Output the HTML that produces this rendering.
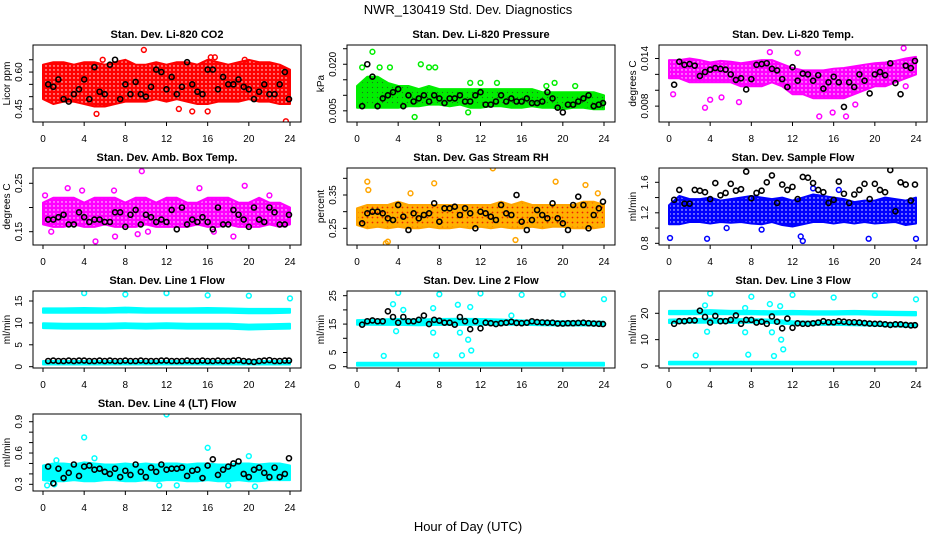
<!DOCTYPE html>
<html><head><meta charset="utf-8"><style>
html,body{margin:0;padding:0;background:#fff;}
svg{display:block;font-family:"Liberation Sans",sans-serif;}
</style></head><body>
<svg id="chart" width="936" height="540" viewBox="0 0 936 540">
<defs>
<pattern id="pat-red" width="4" height="4" patternUnits="userSpaceOnUse"><rect width="4" height="4" fill="#ff0000"/><circle cx="2" cy="2" r="0.7" fill="#ffffff"/></pattern>
<pattern id="pat-green" width="5" height="5" patternUnits="userSpaceOnUse"><rect width="5" height="5" fill="#00ee00"/><circle cx="2.5" cy="2.5" r="0.6" fill="#226622"/></pattern>
<pattern id="pat-magenta" width="4" height="4" patternUnits="userSpaceOnUse"><rect width="4" height="4" fill="#ff00ff"/><circle cx="2" cy="2" r="0.7" fill="#ffffff"/></pattern>
<pattern id="pat-orange" width="5" height="5" patternUnits="userSpaceOnUse"><rect width="5" height="5" fill="#ffb000"/><circle cx="2.5" cy="2.5" r="0.9" fill="#ee2200"/></pattern>
<pattern id="pat-blue" width="4" height="4" patternUnits="userSpaceOnUse"><rect width="4" height="4" fill="#0000ff"/><circle cx="2" cy="2" r="0.7" fill="#ffffff"/></pattern>
<pattern id="pat-cyan" width="4" height="4" patternUnits="userSpaceOnUse"><rect width="4" height="4" fill="#00ffff"/></pattern>
</defs>
<text x="468" y="14" text-anchor="middle" font-size="13">NWR_130419  Std. Dev. Diagnostics</text>
<text x="468" y="531" text-anchor="middle" font-size="13">Hour of Day (UTC)</text>
</svg>
<script>
// ---- shared data ----
const hours25 = [0,1,2,3,4,5,6,7,8,9,10,11,12,13,14,15,16,17,18,19,20,21,22,23,24];
const hours13 = [0,2,4,6,8,10,12,14,16,18,20,22,24];
const blackHours = [0.5,1,1.5,2,2.5,3,3.5,4,4.5,5,5.5,6,6.5,7,7.5,8,8.5,9,9.5,10,10.5,11,11.5,12,12.5,13,13.5,14,14.5,15,15.5,16,16.5,17,17.5,18,18.5,19,19.5,20,20.5,21,21.5,22,22.5,23,23.5,23.9];
const xTicks = [0,4,8,12,16,20,24];

// ---- CO2 ----
const co2Lo = [0.49,0.47,0.48,0.48,0.47,0.46,0.46,0.47,0.48,0.48,0.48,0.49,0.48,0.49,0.48,0.47,0.47,0.48,0.48,0.48,0.49,0.48,0.48,0.47,0.47];
const co2Hi = [0.63,0.64,0.64,0.63,0.64,0.64,0.63,0.64,0.65,0.63,0.63,0.64,0.63,0.64,0.64,0.63,0.65,0.64,0.63,0.64,0.65,0.64,0.64,0.63,0.61];
const co2OutX = [9.8,5.2,16.3,16.7,23.6,13.2,14.5,16.0,19.6,5.8];
const co2OutY = [0.69,0.43,0.66,0.66,0.40,0.45,0.44,0.44,0.65,0.65];
const co2Black = [0.55,0.54,0.57,0.49,0.48,0.51,0.53,0.57,0.49,0.62,0.52,0.51,0.63,0.65,0.49,0.55,0.51,0.56,0.51,0.50,0.54,0.61,0.60,0.53,0.58,0.51,0.54,0.64,0.55,0.52,0.51,0.61,0.61,0.53,0.58,0.55,0.55,0.57,0.54,0.53,0.49,0.52,0.55,0.51,0.51,0.55,0.60,0.49];
const co2Ticks = [0.45,0.50,0.55,0.60,0.65];
const co2Labels = ["0.45","","","0.60",""];

// ---- Pressure ----
const presLo = [0.006,0.006,0.006,0.006,0.006,0.0065,0.0065,0.007,0.007,0.0065,0.007,0.006,0.006,0.0065,0.0065,0.006,0.006,0.0065,0.006,0.006,0.0055,0.006,0.006,0.0055,0.0055];
const presHi = [0.013,0.016,0.016,0.014,0.013,0.013,0.012,0.013,0.012,0.012,0.012,0.012,0.012,0.012,0.012,0.012,0.012,0.012,0.011,0.011,0.011,0.011,0.011,0.011,0.010];
const presOutX = [1.5,0.5,6.2,7,7.6,3.2,2.2,10.8,19.2,5.6,11,12,13.6,18.4,21.2];
const presOutY = [0.024,0.019,0.020,0.019,0.019,0.019,0.019,0.0045,0.014,0.003,0.014,0.014,0.014,0.013,0.013];
const presBlack = [0.0065,0.020,0.016,0.0065,0.009,0.010,0.011,0.012,0.0065,0.010,0.008,0.009,0.010,0.008,0.010,0.009,0.0075,0.009,0.009,0.010,0.008,0.008,0.010,0.011,0.007,0.007,0.008,0.010,0.008,0.009,0.008,0.008,0.009,0.0075,0.0075,0.008,0.011,0.009,0.006,0.0045,0.007,0.007,0.008,0.009,0.010,0.0065,0.007,0.0075];
const presTicks = [0.005,0.010,0.015,0.020,0.025];
const presLabels = ["0.005","","","0.020",""];

// ---- Li-820 Temp ----
const ltLo = [0.0115,0.0115,0.011,0.011,0.011,0.011,0.011,0.0105,0.0105,0.0105,0.011,0.0105,0.0095,0.0095,0.009,0.009,0.009,0.009,0.0095,0.010,0.0105,0.0105,0.011,0.0115,0.012];
const ltHi = [0.0138,0.0138,0.014,0.0138,0.0135,0.0137,0.0136,0.0134,0.0136,0.0138,0.0138,0.0133,0.0128,0.0125,0.0125,0.0125,0.0127,0.0128,0.0130,0.0132,0.0134,0.0135,0.0137,0.014,0.0142];
const ltOutX = [0.4,3.5,4.0,6.8,12.5,14.6,17.2,15.9,22.8,23.0,18.1,9.8,5.1];
const ltOutY = [0.0095,0.0078,0.0088,0.0085,0.0147,0.0067,0.0067,0.0072,0.0153,0.0105,0.0082,0.0148,0.0091];
const ltBlack = [0.0107,0.0136,0.0132,0.0133,0.0131,0.0118,0.0123,0.0126,0.0128,0.0127,0.0126,0.0120,0.0113,0.0115,0.0101,0.0114,0.0132,0.0133,0.0134,0.0127,0.0125,0.0114,0.0104,0.0129,0.0112,0.0121,0.0120,0.0112,0.0119,0.0102,0.0110,0.0117,0.0110,0.0079,0.0110,0.0104,0.0120,0.0112,0.0096,0.0120,0.0123,0.0119,0.0134,0.0109,0.0095,0.0131,0.0128,0.0137];
const ltTicks = [0.008,0.010,0.012,0.014];
const ltLabels = ["0.008","","","0.014"];

// ---- Amb Box Temp ----
const abLo = [0.165,0.160,0.160,0.165,0.160,0.160,0.165,0.160,0.160,0.160,0.165,0.160,0.160,0.160,0.160,0.165,0.160,0.160,0.165,0.160,0.160,0.160,0.165,0.160,0.165];
const abHi = [0.21,0.22,0.22,0.22,0.21,0.22,0.22,0.22,0.21,0.22,0.22,0.21,0.22,0.22,0.21,0.21,0.22,0.22,0.22,0.21,0.21,0.22,0.21,0.21,0.20];
const abOutX = [9.6,5.1,0.8,7.0,2.4,3.8,15.2,19.6,18.5,9.2,10.2,16.6,0.2,6.9,22];
const abOutY = [0.275,0.13,0.15,0.14,0.24,0.235,0.24,0.245,0.14,0.145,0.15,0.15,0.225,0.235,0.225];
const abBlack = [0.175,0.175,0.18,0.185,0.165,0.165,0.19,0.18,0.17,0.175,0.175,0.17,0.17,0.19,0.19,0.16,0.185,0.195,0.165,0.185,0.18,0.17,0.175,0.17,0.195,0.155,0.20,0.165,0.175,0.17,0.18,0.17,0.155,0.20,0.165,0.165,0.195,0.185,0.175,0.16,0.20,0.175,0.17,0.20,0.19,0.165,0.165,0.185];
const abTicks = [0.15,0.20,0.25];
const abLabels = ["0.15","","0.25"];

// ---- Gas Stream RH ----
const rhLo = [0.26,0.25,0.255,0.25,0.255,0.25,0.25,0.255,0.25,0.25,0.255,0.25,0.255,0.25,0.255,0.25,0.25,0.255,0.25,0.255,0.255,0.25,0.25,0.25,0.255];
const rhHi = [0.31,0.32,0.32,0.32,0.33,0.32,0.32,0.32,0.32,0.32,0.32,0.32,0.32,0.32,0.33,0.32,0.33,0.32,0.32,0.32,0.32,0.32,0.33,0.33,0.32];
const rhOutX = [1.0,7.5,13.2,19.3,22.2,2.8,3.0,15.4,1.1,5.2,23.4];
const rhOutY = [0.39,0.385,0.43,0.39,0.38,0.205,0.21,0.215,0.365,0.355,0.355];
const rhBlack = [0.265,0.295,0.30,0.30,0.295,0.28,0.275,0.32,0.285,0.245,0.295,0.28,0.29,0.295,0.325,0.27,0.31,0.31,0.315,0.29,0.31,0.295,0.25,0.30,0.295,0.285,0.275,0.32,0.295,0.29,0.35,0.27,0.245,0.275,0.305,0.29,0.28,0.325,0.28,0.265,0.245,0.32,0.345,0.32,0.25,0.29,0.31,0.33];
const rhTicks = [0.25,0.30,0.35,0.40];
const rhLabels = ["0.25","","0.35",""];

// ---- Sample Flow ----
const sfLo = [1.05,1.05,1.08,1.08,1.06,1.08,1.07,1.08,1.06,1.05,1.08,1.04,1.02,1.05,1.08,1.08,1.06,1.08,1.06,1.08,1.06,1.07,1.08,1.04,1.06];
const sfHi = [1.30,1.42,1.38,1.38,1.40,1.36,1.38,1.40,1.42,1.40,1.38,1.40,1.36,1.40,1.44,1.42,1.40,1.38,1.34,1.36,1.36,1.40,1.38,1.36,1.40];
const sfOutX = [0.1,3.7,12.8,13,19.4,24,5.6,9,14,16.5];
const sfOutY = [0.87,0.86,0.89,0.83,0.86,0.86,1.0,0.98,1.52,1.50];
const sfBlack = [1.37,1.50,1.32,1.32,1.50,1.49,1.47,1.38,1.59,1.43,1.46,1.58,1.49,1.51,1.74,1.39,1.46,1.49,1.60,1.69,1.33,1.57,1.50,1.54,1.38,1.67,1.66,1.59,1.50,1.47,1.33,1.37,1.61,1.45,1.33,1.44,1.50,1.58,1.38,1.58,1.50,1.47,1.76,1.22,1.60,1.57,1.36,1.57];
const sfTicks = [0.8,1.0,1.2,1.4,1.6];
const sfLabels = ["0.8","","1.2","","1.6"];

// ---- Line 1 Flow ----
const l1TopLo = [12.3,12.3,12.3,12.3,12.4,12.3,12.3,12.3,12.3,12.3,12.2,12.2,12.3];
const l1TopHi = [13.3,13.3,13.4,13.3,13.5,13.3,13.3,13.3,13.4,13.3,13.2,13.2,13.2];
const l1MidLo = [8.8,8.7,8.7,8.7,8.8,8.7,8.8,8.7,8.7,8.7,8.5,8.6,8.7];
const l1MidHi = [9.9,9.8,9.8,9.8,9.9,9.8,9.9,9.8,9.8,9.8,9.6,9.7,9.8];
const l1BotLo = [0.5,0.5,0.5,0.5,0.5,0.5,0.5,0.5,0.5,0.5,0.5,0.5,0.5];
const l1BotHi = [1.3,1.3,1.3,1.3,1.3,1.3,1.3,1.3,1.3,1.3,1.3,1.3,1.3];
const l1OutX = [4,8,12,16,20,24];
const l1OutY = [16.8,16.5,16.8,16.3,16.2,15.6];
const l1Black = [1.3,1.4,1.3,1.3,1.4,1.3,1.4,1.4,1.3,1.3,1.4,1.3,1.4,1.3,1.3,1.4,1.3,1.3,1.4,1.3,1.3,1.3,1.4,1.4,1.3,1.3,1.3,1.4,1.3,1.3,1.4,1.3,1.3,1.4,1.3,1.3,1.4,1.5,1.3,1.2,1.1,1.3,1.4,1.5,1.3,1.3,1.4,1.4];
const l1Ticks = [0,5,10,15];
const l1Labels = ["0","5","10","15"];

// ---- Line 2 Flow ----
const l2TopLo = [14.8,14.7,14.7,14.6,14.7,14.7,14.8,14.8,14.8,14.6,14.5,14.5,14.5];
const l2TopHi = [16.4,16.6,16.8,16.6,16.8,16.9,16.8,16.6,16.3,16.2,16.0,16.0,15.8];
const l2BotLo = [0.4,0.4,0.4,0.4,0.4,0.4,0.4,0.4,0.4,0.4,0.4,0.4,0.4];
const l2BotHi = [1.4,1.4,1.4,1.4,1.4,1.4,1.4,1.4,1.4,1.4,1.4,1.4,1.4];
const l2OutX = [4,8,12,16,20,24,2.6,7.7,10.2,11.1,10.8,3.5,4.5,9.8,11,7.4,15,7.4,10,3.8];
const l2OutY = [26,25.5,25.8,25.3,25.4,23.8,3.8,4,4,5.7,9.5,22,20,21.8,21,20.6,18,12,12,12.5];
const l2Black = [14.8,16,16.3,16,16,19.5,17.5,15.5,17.5,16,16,16.5,18,15,16.5,16.2,15.5,15.5,14.8,17.5,16,13.2,16,13.5,15.5,15.3,15,15.3,15.5,15.8,15.4,15.3,15.5,16,15.7,15.6,15.5,15.5,15.2,15.2,15.3,15.3,15.4,15.5,15.3,15.2,15.1,15.0];
const l2Ticks = [0,5,10,15,20,25];
const l2Labels = ["0","5","","15","","25"];

// ---- Line 3 Flow ----
const l3TopLo = [19.6,19.6,19.7,19.6,19.6,19.5,19.6,19.5,19.5,19.6,19.4,19.3,19.2];
const l3TopHi = [20.9,20.9,21.2,20.9,20.9,20.8,20.9,20.8,20.8,20.9,20.7,20.6,20.5];
const l3MidLo = [16.3,16.4,16.4,16.3,16.4,16.3,15.8,15.6,15.6,15.5,15.3,15.0,14.8];
const l3MidHi = [17.6,17.8,17.9,17.8,17.8,17.6,17.0,16.8,16.8,16.7,16.5,16.2,16.0];
const l3BotLo = [0.6,0.6,0.6,0.6,0.6,0.6,0.6,0.6,0.6,0.6,0.6,0.6,0.6];
const l3BotHi = [1.6,1.6,1.6,1.6,1.6,1.6,1.6,1.6,1.6,1.6,1.6,1.6,1.6];
const l3OutX = [4,8,12,16,20,24,2.6,7.7,10.2,11.1,10.9,3.5,3.7,9.8,10.8,7.4,7.4,10];
const l3OutY = [27.5,26.3,27,26,26.8,25.3,4,4.3,3.8,6.3,10,23,13,23.5,22.7,22,12.8,12.8];
const l3Black = [16,17,17,17.3,17.3,21,18.6,16.5,19,17,17,17.5,19.2,16,17.5,17.5,16.5,16.8,16,18.8,16.8,14.3,18,14.5,16.2,16,16,16.2,16.5,17,16.6,16.6,17,16.8,16.6,16.6,16.5,16.3,16.1,16,16,15.8,15.6,15.8,15.8,15.6,15.4,15.5];
const l3Ticks = [0,10,20];
const l3Labels = ["0","10","20"];

// ---- Line 4 (LT) Flow ----
const l4Lo = [0.34,0.33,0.33,0.34,0.33,0.33,0.34,0.34,0.33,0.33,0.34,0.33,0.34,0.34,0.33,0.33,0.34,0.33,0.33,0.34,0.33,0.33,0.34,0.34,0.34];
const l4Hi = [0.48,0.50,0.50,0.49,0.51,0.50,0.49,0.49,0.50,0.49,0.50,0.49,0.50,0.50,0.49,0.50,0.50,0.49,0.49,0.50,0.50,0.49,0.50,0.50,0.48];
const l4OutX = [4,12,16,20,1.1,0.4,13,20.6,11.3,18,5,1.3];
const l4OutY = [0.75,0.97,0.65,0.57,0.30,0.29,0.29,0.28,0.29,0.29,0.55,0.53];
const l4Black = [0.47,0.31,0.45,0.36,0.41,0.49,0.38,0.47,0.48,0.44,0.45,0.42,0.40,0.45,0.37,0.43,0.39,0.49,0.42,0.37,0.46,0.42,0.49,0.44,0.45,0.45,0.46,0.38,0.43,0.44,0.36,0.48,0.54,0.39,0.44,0.47,0.50,0.52,0.40,0.37,0.44,0.46,0.41,0.37,0.46,0.37,0.40,0.55];
const l4Ticks = [0.3,0.4,0.5,0.6,0.7,0.8,0.9];
const l4Labels = ["0.3","","","0.6","","","0.9"];

const NS = "http://www.w3.org/2000/svg";
const svg = document.getElementById("chart");
const colLeft = [33,347,659];
const rowTop = [45,168,291,414];
const boxW = 268, boxH = 77;

function mk(tag, attrs, parent){
  const e = document.createElementNS(NS, tag);
  for (const k in attrs) e.setAttribute(k, attrs[k]);
  (parent||svg).appendChild(e);
  return e;
}

function panel(o){
  const L = colLeft[o.col], T = rowTop[o.row];
  const g = mk("g", {});
  
  
  const xs = h => L + 10 + h * 247 / 24;
  const ys = v => T + (o.ymax - v) / (o.ymax - o.ymin) * boxH;
  const clipId = "clip-" + o.name;
  const cp = mk("clipPath", {id: clipId}, g);
  mk("rect", {x: L, y: T, width: boxW, height: boxH}, cp);
  const plot = mk("g", {"clip-path": "url(#" + clipId + ")"}, g);
  o.bands.forEach((b, bi) => {
    let pts = [];
    b.hrs.forEach((h, i) => pts.push(xs(h).toFixed(1) + "," + ys(b.hi[i]).toFixed(1)));
    for (let i = b.hrs.length - 1; i >= 0; i--) pts.push(xs(b.hrs[i]).toFixed(1) + "," + ys(b.lo[i]).toFixed(1));
    const p = mk("polygon", {points: pts.join(" "), fill: "url(#" + o.pat + ")", stroke: o.color, "stroke-width": 2, "stroke-linejoin": "round"}, plot);
    
    
  });
  o.outX.forEach((x, i) => {
    const c = mk("circle", {cx: xs(x), cy: ys(o.outY[i]), r: 2.4, fill: "none", stroke: o.color, "stroke-width": 1.5}, plot);
    
    
  });
  blackHours.forEach((h, i) => {
    const c = mk("circle", {cx: xs(h), cy: ys(o.black[i]), r: 2.5, fill: "none", stroke: "#000", "stroke-width": 1.6}, plot);
    
    
  });
  const box = mk("rect", {x: L, y: T, width: boxW, height: boxH, fill: "none", stroke: "#000", "stroke-width": 1}, g);
  
  
  xTicks.forEach(t => {
    mk("line", {x1: xs(t), x2: xs(t), y1: T + boxH, y2: T + boxH + 4, stroke: "#000"}, g);
    const tx = mk("text", {x: xs(t), y: T + boxH + 20, "text-anchor": "middle", "font-size": 10}, g);
    tx.textContent = t;
    
    
  });
  o.yTicks.forEach((t, i) => {
    const y = ys(t);
    mk("line", {x1: L - 4, x2: L, y1: y, y2: y, stroke: "#000"}, g);
    if (o.yLabels[i]) {
      const tx = mk("text", {x: 0, y: 0, "text-anchor": "middle", "font-size": 10, transform: "translate(" + (L - 11) + "," + y.toFixed(1) + ") rotate(-90)"}, g);
      tx.textContent = o.yLabels[i];
      
      
    }
  });
  const yl = mk("text", {x: 0, y: 0, "text-anchor": "middle", "font-size": 10, transform: "translate(" + (L - 23) + "," + (T + boxH / 2) + ") rotate(-90)"}, g);
  yl.textContent = o.ylab;
  
  
  const tt = mk("text", {x: L + boxW / 2, y: T - 7, "text-anchor": "middle", "font-size": 11, "font-weight": "bold"}, g);
  tt.textContent = o.title;
  
  
}

panel({name:"co2", col:0,row:0, ymin:0.397, ymax:0.71, color:"#ff0000", pat:"pat-red", title:"Stan. Dev. Li-820 CO2", ylab:"Licor ppm",
  bands:[{hrs:hours25, lo:co2Lo, hi:co2Hi}], outX:co2OutX, outY:co2OutY, black:co2Black, yTicks:co2Ticks, yLabels:co2Labels});
panel({name:"pressure", col:1,row:0, ymin:0.0014, ymax:0.0262, color:"#00ee00", pat:"pat-green", title:"Stan. Dev. Li-820 Pressure", ylab:"kPa",
  bands:[{hrs:hours25, lo:presLo, hi:presHi}], outX:presOutX, outY:presOutY, black:presBlack, yTicks:presTicks, yLabels:presLabels});
panel({name:"li820-temp", col:2,row:0, ymin:0.0060, ymax:0.0157, color:"#ff00ff", pat:"pat-magenta", title:"Stan. Dev. Li-820 Temp.", ylab:"degrees C",
  bands:[{hrs:hours25, lo:ltLo, hi:ltHi}], outX:ltOutX, outY:ltOutY, black:ltBlack, yTicks:ltTicks, yLabels:ltLabels});
panel({name:"amb-box-temp", col:0,row:1, ymin:0.1225, ymax:0.2816, color:"#ff00ff", pat:"pat-magenta", title:"Stan. Dev. Amb. Box Temp.", ylab:"degrees C",
  bands:[{hrs:hours25, lo:abLo, hi:abHi}], outX:abOutX, outY:abOutY, black:abBlack, yTicks:abTicks, yLabels:abLabels});
panel({name:"gas-rh", col:1,row:1, ymin:0.200, ymax:0.431, color:"#ffa500", pat:"pat-orange", title:"Stan. Dev. Gas Stream RH", ylab:"percent",
  bands:[{hrs:hours25, lo:rhLo, hi:rhHi}], outX:rhOutX, outY:rhOutY, black:rhBlack, yTicks:rhTicks, yLabels:rhLabels});
panel({name:"sample-flow", col:2,row:1, ymin:0.778, ymax:1.7875, color:"#0000ff", pat:"pat-blue", title:"Stan. Dev. Sample Flow", ylab:"ml/min",
  bands:[{hrs:hours25, lo:sfLo, hi:sfHi}], outX:sfOutX, outY:sfOutY, black:sfBlack, yTicks:sfTicks, yLabels:sfLabels});
panel({name:"line1-flow", col:0,row:2, ymin:-0.3, ymax:17.28, color:"#00ffff", pat:"pat-cyan", title:"Stan. Dev. Line 1 Flow", ylab:"ml/min",
  bands:[{hrs:hours13, lo:l1TopLo, hi:l1TopHi},{hrs:hours13, lo:l1MidLo, hi:l1MidHi},{hrs:hours13, lo:l1BotLo, hi:l1BotHi}], outX:l1OutX, outY:l1OutY, black:l1Black, yTicks:l1Ticks, yLabels:l1Labels});
panel({name:"line2-flow", col:1,row:2, ymin:-0.46, ymax:26.65, color:"#00ffff", pat:"pat-cyan", title:"Stan. Dev. Line 2 Flow", ylab:"ml/min",
  bands:[{hrs:hours13, lo:l2TopLo, hi:l2TopHi},{hrs:hours13, lo:l2BotLo, hi:l2BotHi}], outX:l2OutX, outY:l2OutY, black:l2Black, yTicks:l2Ticks, yLabels:l2Labels});
panel({name:"line3-flow", col:2,row:2, ymin:-0.76, ymax:28.46, color:"#00ffff", pat:"pat-cyan", title:"Stan. Dev. Line 3 Flow", ylab:"ml/min",
  bands:[{hrs:hours13, lo:l3TopLo, hi:l3TopHi},{hrs:hours13, lo:l3MidLo, hi:l3MidHi},{hrs:hours13, lo:l3BotLo, hi:l3BotHi}], outX:l3OutX, outY:l3OutY, black:l3Black, yTicks:l3Ticks, yLabels:l3Labels});
panel({name:"line4-flow", col:0,row:3, ymin:0.236, ymax:0.974, color:"#00ffff", pat:"pat-cyan", title:"Stan. Dev. Line 4 (LT) Flow", ylab:"ml/min",
  bands:[{hrs:hours25, lo:l4Lo, hi:l4Hi}], outX:l4OutX, outY:l4OutY, black:l4Black, yTicks:l4Ticks, yLabels:l4Labels});
</script>
</body></html>
